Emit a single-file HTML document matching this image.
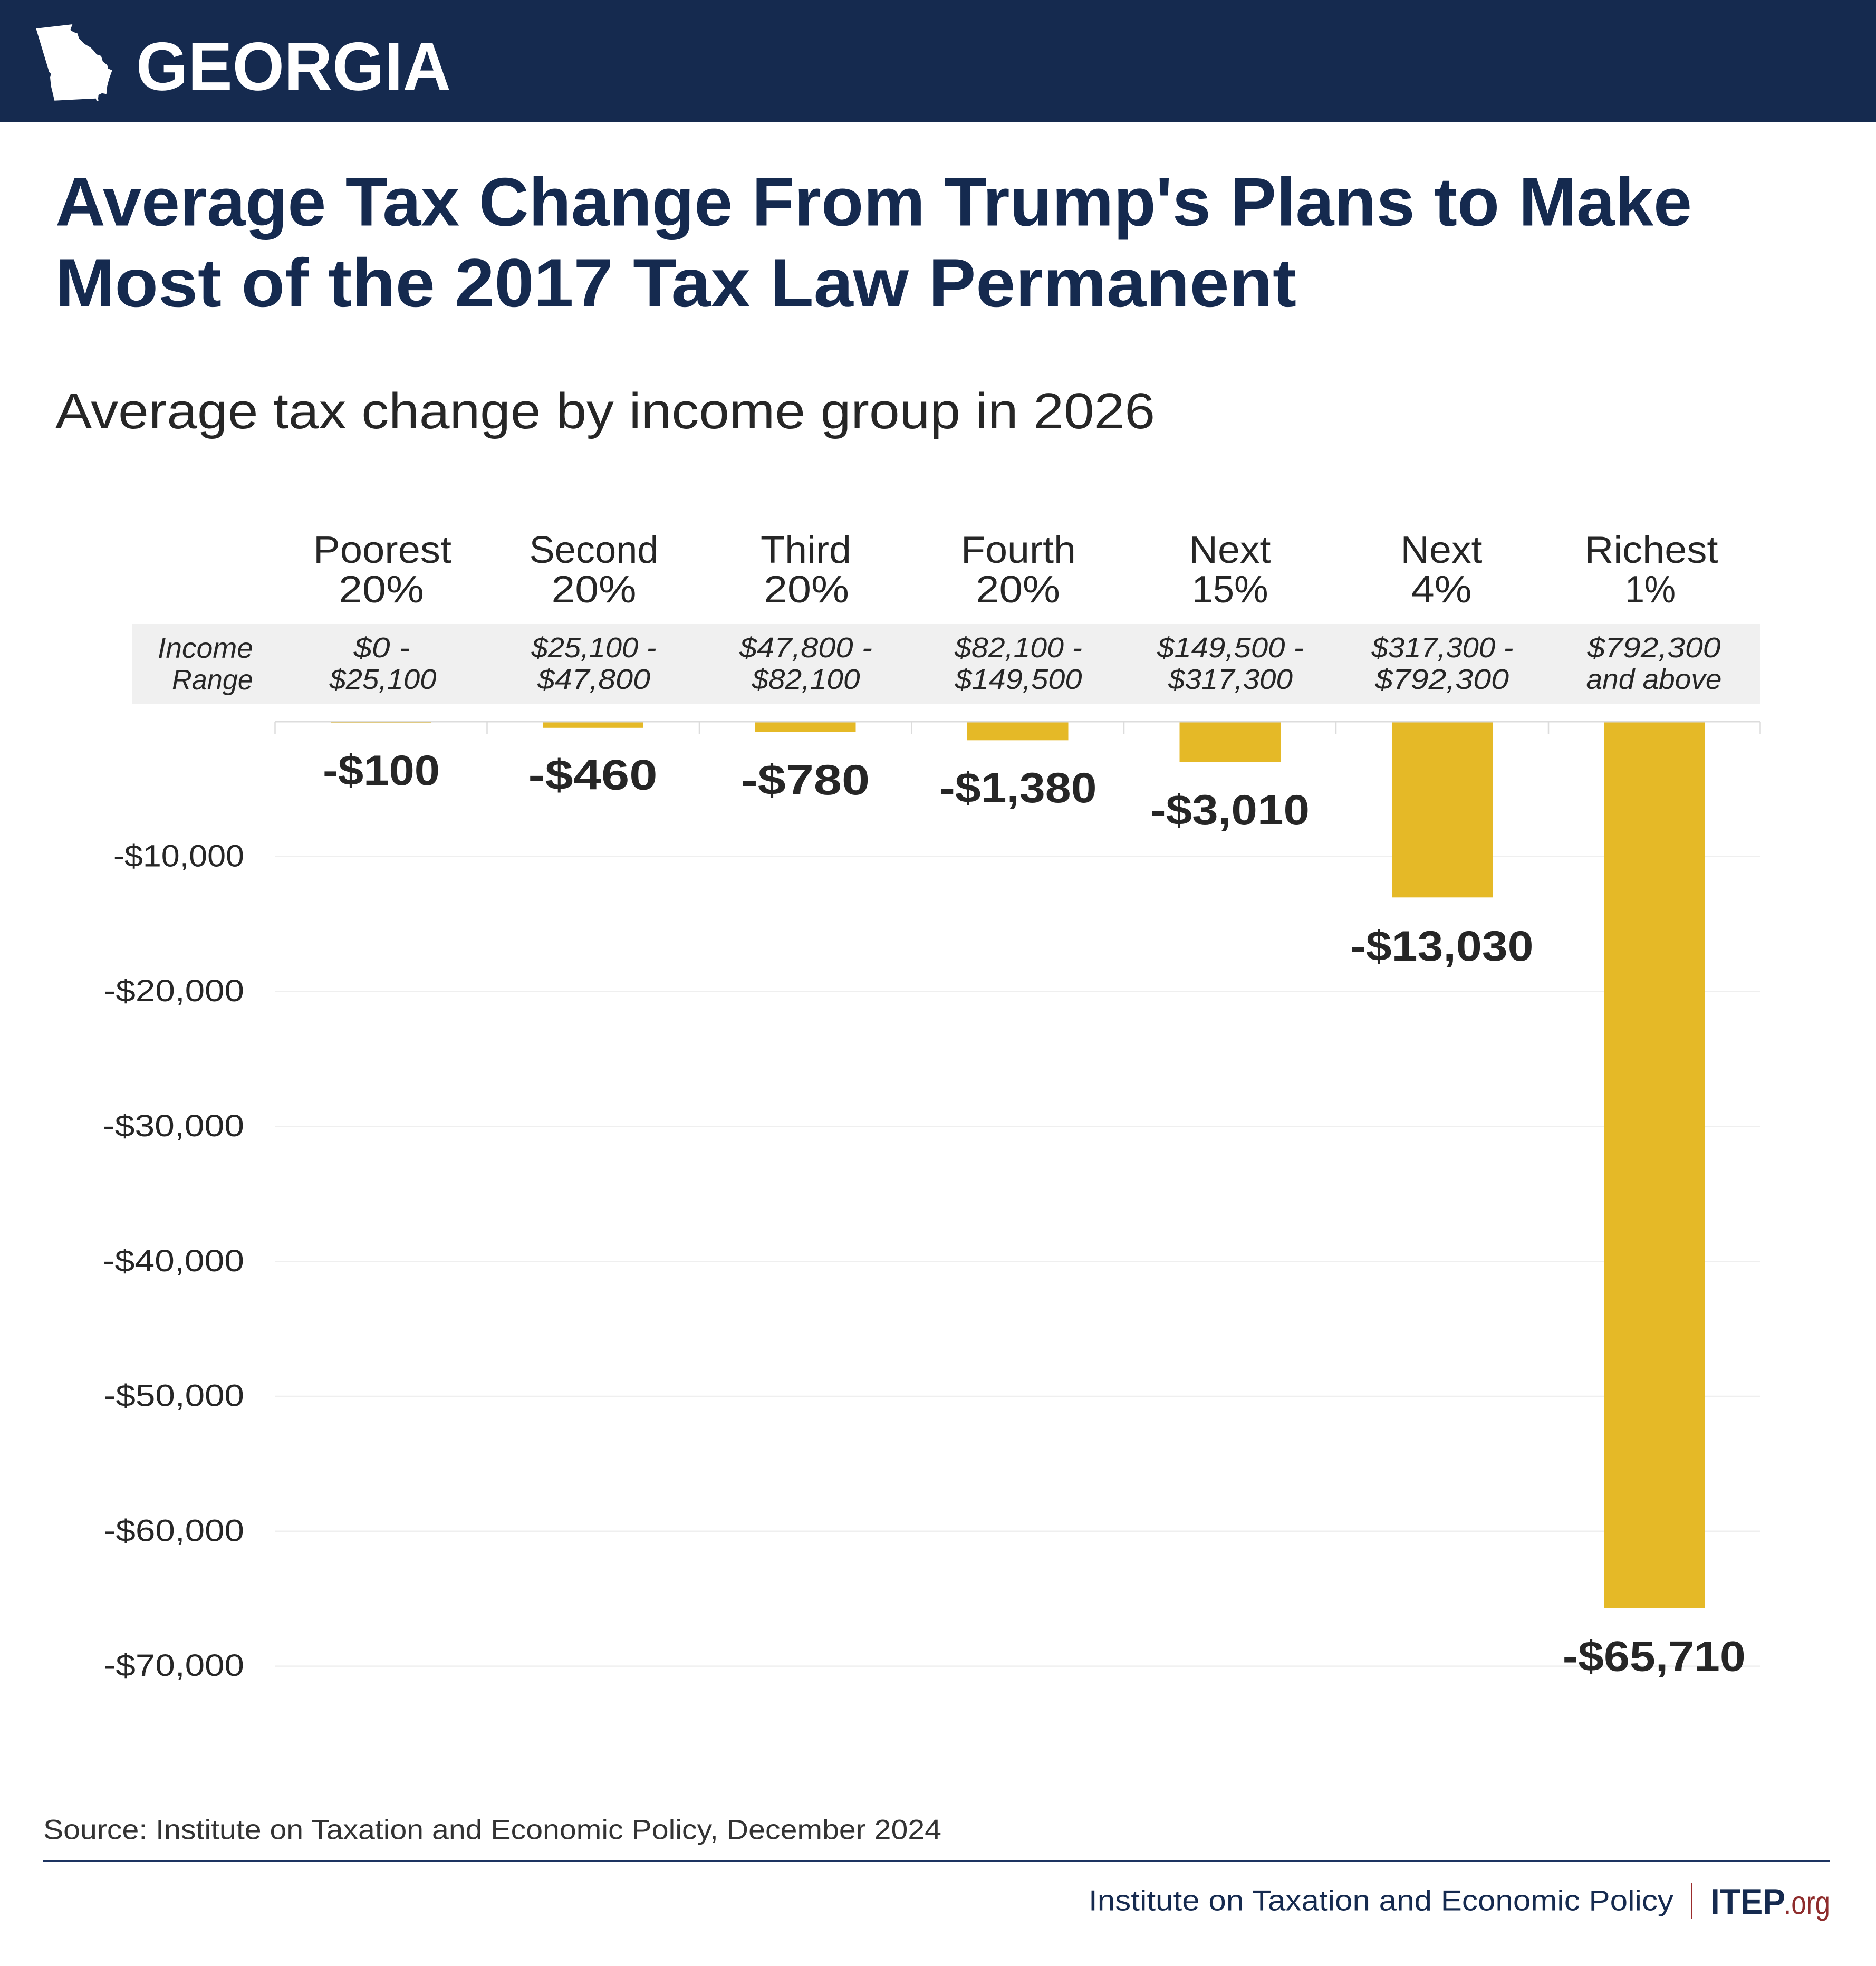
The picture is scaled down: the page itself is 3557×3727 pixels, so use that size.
<!DOCTYPE html>
<html>
<head>
<meta charset="utf-8">
<style>
  html,body{margin:0;padding:0;background:#ffffff;}
  svg{display:block;}
  text{font-family:"Liberation Sans", "DejaVu Sans", sans-serif;}
</style>
</head>
<body>
<svg width="3557" height="3727" viewBox="0 0 3557 3727" xmlns="http://www.w3.org/2000/svg">
  <rect x="0" y="0" width="3557" height="3727" fill="#ffffff"/>

  <!-- Header band -->
  <rect x="0" y="0" width="3557" height="231" fill="#152a4f"/>
  <polygon fill="#ffffff" points="68.3,54 137.3,46 133.3,56.7 139.3,60.7 146.7,63.3 150,73.3 160,83.3 171.7,90 178.3,96.7 183.3,103.3 191.7,106 195,116.7 203.3,123.3 205,130 212.7,133.3 206.7,150 203.3,163.3 201.7,178.3 193.3,176.7 186.7,180 186,186.7 186.7,191.7 183.3,191.7 181.7,186.7 103.3,190.7 100,176.7 96.7,163.3 95,146.7 96.7,140 93.3,136.7"/>
  <text x="258" y="170.6" font-size="130" font-weight="bold" fill="#ffffff" textLength="597" lengthAdjust="spacingAndGlyphs">GEORGIA</text>

  <!-- Title -->
  <text x="105" y="427.5" font-size="130" font-weight="bold" fill="#152a4f" textLength="3103" lengthAdjust="spacingAndGlyphs">Average Tax Change From Trump's Plans to Make</text>
  <text x="105" y="581" font-size="130" font-weight="bold" fill="#152a4f" textLength="2353" lengthAdjust="spacingAndGlyphs">Most of the 2017 Tax Law Permanent</text>

  <!-- Subtitle -->
  <text x="105" y="812" font-size="96" fill="#262626" textLength="2085" lengthAdjust="spacingAndGlyphs">Average tax change by income group in 2026</text>

  <!-- Column headers -->
  <g font-size="72" fill="#262626" text-anchor="middle">
    <text x="725" y="1067" textLength="262" lengthAdjust="spacingAndGlyphs">Poorest</text>
    <text x="723" y="1142" textLength="162" lengthAdjust="spacingAndGlyphs">20%</text>
    <text x="1126" y="1067" textLength="245" lengthAdjust="spacingAndGlyphs">Second</text>
    <text x="1126" y="1142" textLength="161" lengthAdjust="spacingAndGlyphs">20%</text>
    <text x="1528" y="1067" textLength="172" lengthAdjust="spacingAndGlyphs">Third</text>
    <text x="1529" y="1142" textLength="162" lengthAdjust="spacingAndGlyphs">20%</text>
    <text x="1931" y="1067" textLength="218" lengthAdjust="spacingAndGlyphs">Fourth</text>
    <text x="1930" y="1142" textLength="160" lengthAdjust="spacingAndGlyphs">20%</text>
    <text x="2332" y="1067" textLength="155" lengthAdjust="spacingAndGlyphs">Next</text>
    <text x="2332" y="1142" textLength="145" lengthAdjust="spacingAndGlyphs">15%</text>
    <text x="2733" y="1067" textLength="155" lengthAdjust="spacingAndGlyphs">Next</text>
    <text x="2733" y="1142" textLength="115" lengthAdjust="spacingAndGlyphs">4%</text>
    <text x="3131" y="1067" textLength="253" lengthAdjust="spacingAndGlyphs">Richest</text>
    <text x="3129" y="1142" textLength="96" lengthAdjust="spacingAndGlyphs">1%</text>
  </g>

  <!-- Income range band -->
  <rect x="251" y="1183" width="3087" height="151" fill="#f0f0f0"/>
  <g font-size="54" font-style="italic" fill="#262626">
    <text x="480" y="1247" text-anchor="end" textLength="181" lengthAdjust="spacingAndGlyphs">Income</text>
    <text x="480" y="1307" text-anchor="end" textLength="154" lengthAdjust="spacingAndGlyphs">Range</text>
  </g>
  <g font-size="54" font-style="italic" fill="#262626" text-anchor="middle">
    <text x="724" y="1246" textLength="107" lengthAdjust="spacingAndGlyphs">$0 -</text>
    <text x="726" y="1306" textLength="203" lengthAdjust="spacingAndGlyphs">$25,100</text>
    <text x="1126" y="1246" textLength="237" lengthAdjust="spacingAndGlyphs">$25,100 -</text>
    <text x="1126" y="1306" textLength="214" lengthAdjust="spacingAndGlyphs">$47,800</text>
    <text x="1528" y="1246" textLength="252" lengthAdjust="spacingAndGlyphs">$47,800 -</text>
    <text x="1528" y="1306" textLength="205" lengthAdjust="spacingAndGlyphs">$82,100</text>
    <text x="1931" y="1246" textLength="242" lengthAdjust="spacingAndGlyphs">$82,100 -</text>
    <text x="1931" y="1306" textLength="241" lengthAdjust="spacingAndGlyphs">$149,500</text>
    <text x="2333" y="1246" textLength="278" lengthAdjust="spacingAndGlyphs">$149,500 -</text>
    <text x="2333" y="1306" textLength="236" lengthAdjust="spacingAndGlyphs">$317,300</text>
    <text x="2735" y="1246" textLength="269" lengthAdjust="spacingAndGlyphs">$317,300 -</text>
    <text x="2734" y="1306" textLength="254" lengthAdjust="spacingAndGlyphs">$792,300</text>
    <text x="3136" y="1246" textLength="253" lengthAdjust="spacingAndGlyphs">$792,300</text>
    <text x="3136" y="1306" textLength="257" lengthAdjust="spacingAndGlyphs">and above</text>
  </g>

  <!-- Gridlines -->
  <g stroke="#efefef" stroke-width="2.5">
    <line x1="521" y1="1623.8" x2="3338" y2="1623.8"/>
    <line x1="521" y1="1879.6" x2="3338" y2="1879.6"/>
    <line x1="521" y1="2135.4" x2="3338" y2="2135.4"/>
    <line x1="521" y1="2391.2" x2="3338" y2="2391.2"/>
    <line x1="521" y1="2647" x2="3338" y2="2647"/>
    <line x1="521" y1="2902.8" x2="3338" y2="2902.8"/>
    <line x1="521" y1="3158.6" x2="3338" y2="3158.6"/>
  </g>

  <!-- Y axis labels -->
  <g font-size="58" fill="#262626" text-anchor="end">
    <text x="463" y="1642.4" textLength="248" lengthAdjust="spacingAndGlyphs">-$10,000</text>
    <text x="463" y="1898.2" textLength="266" lengthAdjust="spacingAndGlyphs">-$20,000</text>
    <text x="463" y="2154" textLength="268" lengthAdjust="spacingAndGlyphs">-$30,000</text>
    <text x="463" y="2409.8" textLength="268" lengthAdjust="spacingAndGlyphs">-$40,000</text>
    <text x="463" y="2665.6" textLength="266" lengthAdjust="spacingAndGlyphs">-$50,000</text>
    <text x="463" y="2921.4" textLength="266" lengthAdjust="spacingAndGlyphs">-$60,000</text>
    <text x="463" y="3177.2" textLength="266" lengthAdjust="spacingAndGlyphs">-$70,000</text>
  </g>

  <!-- Bars -->
  <g fill="#e5b927">
    <rect x="627" y="1369" width="191" height="1.6"/>
    <rect x="1029" y="1369" width="191" height="10.8"/>
    <rect x="1431" y="1369" width="191.5" height="19"/>
    <rect x="1834" y="1369" width="191.5" height="34.3"/>
    <rect x="2236.5" y="1369" width="191.5" height="76"/>
    <rect x="2639" y="1369" width="191.5" height="332.3"/>
    <rect x="3041" y="1369" width="191.7" height="1679.9"/>
  </g>

  <!-- Zero line and ticks -->
  <line x1="521" y1="1368" x2="3338" y2="1368" stroke="#dcdcdc" stroke-width="3"/>
  <g stroke="#dcdcdc" stroke-width="2.5">
    <line x1="521.5" y1="1368" x2="521.5" y2="1391"/>
    <line x1="923.5" y1="1368" x2="923.5" y2="1391"/>
    <line x1="1326" y1="1368" x2="1326" y2="1391"/>
    <line x1="1728.5" y1="1368" x2="1728.5" y2="1391"/>
    <line x1="2131" y1="1368" x2="2131" y2="1391"/>
    <line x1="2533" y1="1368" x2="2533" y2="1391"/>
    <line x1="2936" y1="1368" x2="2936" y2="1391"/>
    <line x1="3337.5" y1="1368" x2="3337.5" y2="1391"/>
  </g>

  <!-- Value labels -->
  <g font-size="81" font-weight="bold" fill="#262626" text-anchor="middle">
    <text x="723" y="1488" textLength="222" lengthAdjust="spacingAndGlyphs">-$100</text>
    <text x="1124" y="1496.5" textLength="245" lengthAdjust="spacingAndGlyphs">-$460</text>
    <text x="1527" y="1505.8" textLength="244" lengthAdjust="spacingAndGlyphs">-$780</text>
    <text x="1930.5" y="1521" textLength="298" lengthAdjust="spacingAndGlyphs">-$1,380</text>
    <text x="2332" y="1562.8" textLength="302" lengthAdjust="spacingAndGlyphs">-$3,010</text>
    <text x="2734" y="1821" textLength="347" lengthAdjust="spacingAndGlyphs">-$13,030</text>
    <text x="3136.3" y="3167.3" textLength="347" lengthAdjust="spacingAndGlyphs">-$65,710</text>
  </g>

  <!-- Source -->
  <text x="82" y="3486.7" font-size="53" fill="#333333" textLength="1703" lengthAdjust="spacingAndGlyphs">Source: Institute on Taxation and Economic Policy, December 2024</text>

  <!-- Footer rule -->
  <rect x="82" y="3526.5" width="3388" height="3.5" fill="#1d3461"/>

  <!-- Footer branding -->
  <text x="2064" y="3621.7" font-size="55" fill="#152a4f" textLength="1109" lengthAdjust="spacingAndGlyphs">Institute on Taxation and Economic Policy</text>
  <rect x="3206.5" y="3570" width="2.5" height="67" fill="#9b2c2c"/>
  <text x="3243" y="3628.7" font-size="69" font-weight="bold" fill="#152a4f" textLength="142" lengthAdjust="spacingAndGlyphs">ITEP</text>
  <text x="3382" y="3628.7" font-size="62" fill="#8e2c2c" textLength="88" lengthAdjust="spacingAndGlyphs">.org</text>
</svg>
</body>
</html>
